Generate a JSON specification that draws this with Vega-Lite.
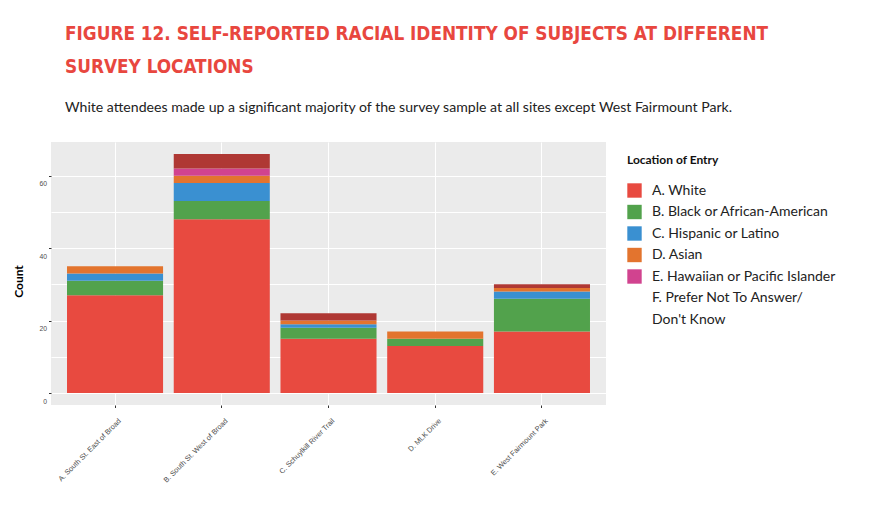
{
  "$schema": "https://vega.github.io/schema/vega-lite/v6.json",
  "width": 555,
  "height": 263,
  "autosize": {"type": "none"},
  "padding": {"left": 51, "top": 142, "right": 263, "bottom": 118},
  "background": "white",
  "title": {
    "text": ["FIGURE 12. SELF-REPORTED RACIAL IDENTITY OF SUBJECTS AT DIFFERENT", "SURVEY LOCATIONS"],
    "subtitle": "White attendees made up a significant majority of the survey sample at all sites except West Fairmount Park.",
    "anchor": "start",
    "frame": "group",
    "dx": 14,
    "offset": 27,
    "font": "DejaVu Sans Condensed, sans-serif",
    "fontSize": 18.8,
    "fontWeight": "bold",
    "lineHeight": 33.5,
    "color": "#E8473F",
    "subtitleFont": "Lato",
    "subtitleFontSize": 14.1,
    "subtitleColor": "#222222",
    "subtitlePadding": 24
  },
  "data": {
    "values": [
      {"location": "A. South St. East of Broad", "race": "A. White", "count": 27},
      {"location": "A. South St. East of Broad", "race": "B. Black or African-American", "count": 4},
      {"location": "A. South St. East of Broad", "race": "C. Hispanic or Latino", "count": 2},
      {"location": "A. South St. East of Broad", "race": "D. Asian", "count": 2},
      {"location": "B. South St. West of Broad", "race": "A. White", "count": 48},
      {"location": "B. South St. West of Broad", "race": "B. Black or African-American", "count": 5},
      {"location": "B. South St. West of Broad", "race": "C. Hispanic or Latino", "count": 5},
      {"location": "B. South St. West of Broad", "race": "D. Asian", "count": 2},
      {"location": "B. South St. West of Broad", "race": "E. Hawaiian or Pacific Islander", "count": 2},
      {"location": "B. South St. West of Broad", "race": "F. Prefer Not To Answer/ Don't Know", "count": 4},
      {"location": "C. Schuylkill River Trail", "race": "A. White", "count": 15},
      {"location": "C. Schuylkill River Trail", "race": "B. Black or African-American", "count": 3},
      {"location": "C. Schuylkill River Trail", "race": "C. Hispanic or Latino", "count": 1},
      {"location": "C. Schuylkill River Trail", "race": "D. Asian", "count": 1},
      {"location": "C. Schuylkill River Trail", "race": "F. Prefer Not To Answer/ Don't Know", "count": 2},
      {"location": "D. MLK Drive", "race": "A. White", "count": 13},
      {"location": "D. MLK Drive", "race": "B. Black or African-American", "count": 2},
      {"location": "D. MLK Drive", "race": "D. Asian", "count": 2},
      {"location": "E. West Fairmount Park", "race": "A. White", "count": 17},
      {"location": "E. West Fairmount Park", "race": "B. Black or African-American", "count": 9},
      {"location": "E. West Fairmount Park", "race": "C. Hispanic or Latino", "count": 2},
      {"location": "E. West Fairmount Park", "race": "D. Asian", "count": 1},
      {"location": "E. West Fairmount Park", "race": "F. Prefer Not To Answer/ Don't Know", "count": 1}
    ]
  },
  "mark": {"type": "bar"},
  "encoding": {
    "x": {
      "field": "location",
      "type": "nominal",
      "sort": null,
      "scale": {"paddingInner": 0.1, "paddingOuter": 0.15},
      "axis": {
        "title": null,
        "bandPosition": 0.5,
        "grid": true,
        "gridColor": "white",
        "gridWidth": 1,
        "domain": false,
        "tickColor": "#333333",
        "tickSize": 2.5,
        "labelAngle": -45,
        "labelAlign": "right",
        "labelBaseline": "middle",
        "labelPadding": 12,
        "labelOffset": 5,
        "labelFont": "Liberation Sans",
        "labelFontSize": 7.3,
        "labelColor": "#4D4D4D",
        "labelLimit": 200
      }
    },
    "y": {
      "field": "count",
      "type": "quantitative",
      "stack": "zero",
      "scale": {"domain": [-3.3, 69.3], "nice": false, "zero": false},
      "axis": {
        "title": "Count",
        "titleFont": "Lato",
        "titleFontSize": 12,
        "titleFontWeight": "bold",
        "titleColor": "#000000",
        "titleAngle": -90,
        "titleX": -32.5,
        "titleY": 139,
        "titleAlign": "center",
        "titleBaseline": "middle",
        "values": [0, 10, 20, 30, 40, 50, 60],
        "labelExpr": "datum.value % 20 == 0 ? datum.label : ''",
        "tickOpacity": {"condition": {"test": "datum.value % 20 != 0", "value": 0}, "value": 1},
        "grid": true,
        "gridColor": "white",
        "gridWidth": 1,
        "domain": false,
        "tickColor": "#333333",
        "tickSize": 2.5,
        "labelFont": "Liberation Sans",
        "labelFontSize": 6.8,
        "labelColor": "#4D4D4D",
        "labelPadding": 2,
        "labelOffset": 8
      }
    },
    "color": {
      "field": "race",
      "type": "nominal",
      "scale": {
        "domain": ["A. White", "B. Black or African-American", "C. Hispanic or Latino", "D. Asian", "E. Hawaiian or Pacific Islander", "F. Prefer Not To Answer/ Don't Know"],
        "range": ["#E84A40", "#52A24C", "#3A90D1", "#E3742E", "#D1438F", "#AF3834"]
      },
      "legend": {
        "title": "Location of Entry",
        "titleFont": "Lato",
        "titleFontSize": 12,
        "titleFontWeight": "bold",
        "titleColor": "#111111",
        "titlePadding": 16,
        "labelFont": "Lato",
        "labelFontSize": 14,
        "labelColor": "#222222",
        "labelLimit": 300,
        "labelOffset": 10,
        "labelExpr": "indexof(datum.label, 'F.') == 0 ? ['F. Prefer Not To Answer/', \"Don't Know\"] : datum.label",
        "symbolType": "square",
        "symbolSize": 207,
        "symbolStrokeWidth": 0,
        "symbolOpacity": 1,
        "rowPadding": 6.5,
        "offset": 8,
        "padding": 13,
        "encoding": {
          "symbols": {
            "opacity": {"condition": {"test": "indexof(datum.value, 'F.') == 0", "value": 0}, "value": 1}
          },
          "labels": {
            "lineHeight": {"value": 21.5}
          }
        }
      }
    },
    "order": {"field": "race", "sort": "ascending"}
  },
  "config": {
    "view": {"fill": "#EBEBEB", "stroke": null}
  }
}
